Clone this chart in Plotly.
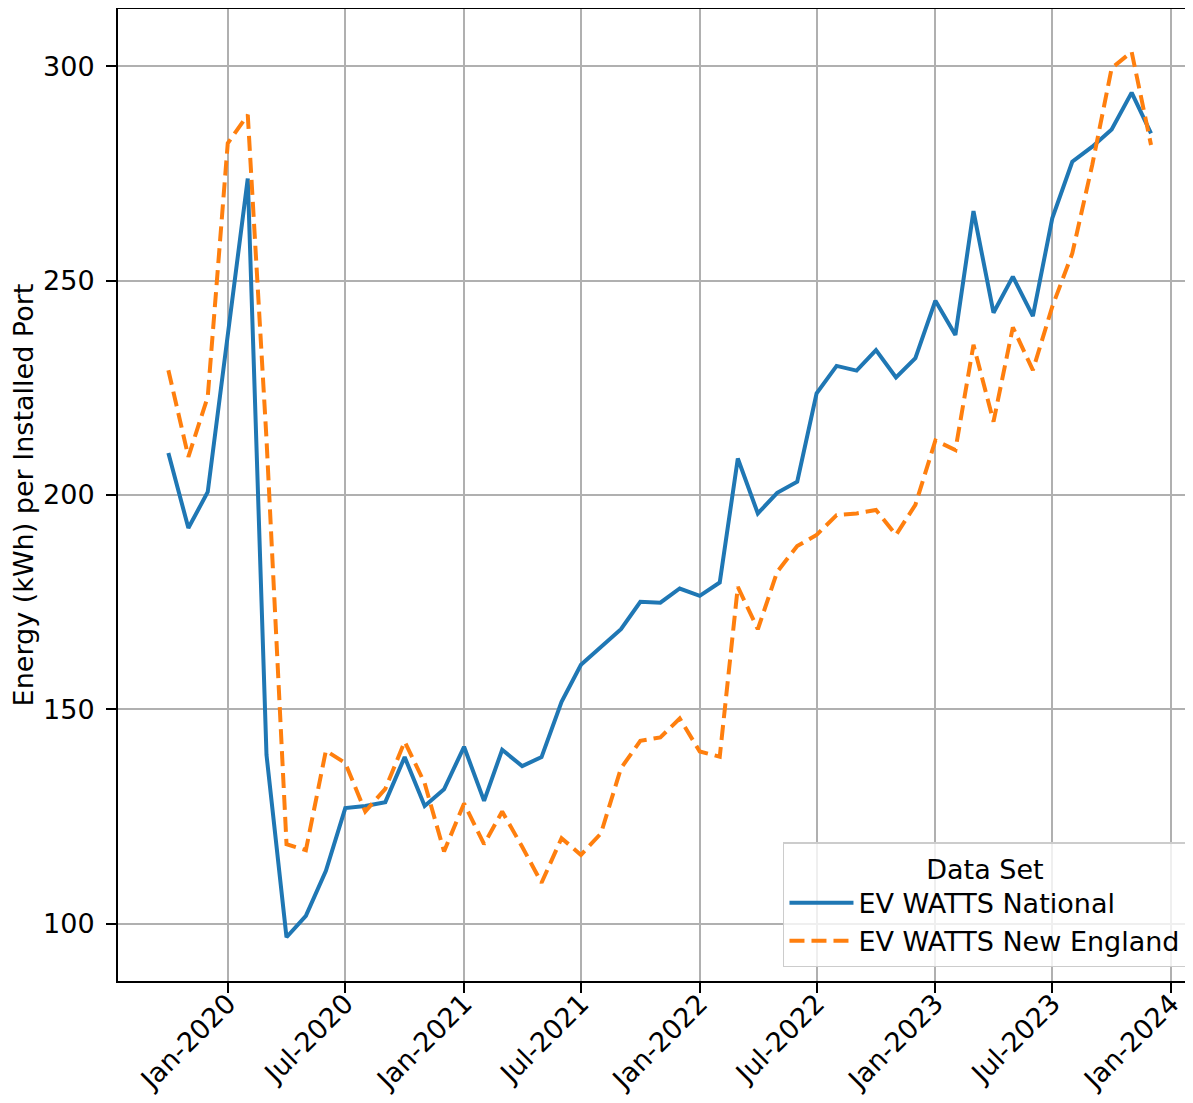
import plotly.graph_objects as go

months = [
    "2019-10-01", "2019-11-01", "2019-12-01",
    "2020-01-01", "2020-02-01", "2020-03-01", "2020-04-01", "2020-05-01", "2020-06-01",
    "2020-07-01", "2020-08-01", "2020-09-01", "2020-10-01", "2020-11-01", "2020-12-01",
    "2021-01-01", "2021-02-01", "2021-03-01", "2021-04-01", "2021-05-01", "2021-06-01",
    "2021-07-01", "2021-08-01", "2021-09-01", "2021-10-01", "2021-11-01", "2021-12-01",
    "2022-01-01", "2022-02-01", "2022-03-01", "2022-04-01", "2022-05-01", "2022-06-01",
    "2022-07-01", "2022-08-01", "2022-09-01", "2022-10-01", "2022-11-01", "2022-12-01",
    "2023-01-01", "2023-02-01", "2023-03-01", "2023-04-01", "2023-05-01", "2023-06-01",
    "2023-07-01", "2023-08-01", "2023-09-01", "2023-10-01", "2023-11-01", "2023-12-01",
]

national = [
    209.8, 192.3, 200.7,
    237.8, 273.8, 139.4, 96.9, 101.9, 112.4,
    127.0, 127.5, 128.4, 138.9, 127.5, 131.4,
    141.3, 128.7, 140.6, 136.8, 138.9, 151.8,
    160.4, 164.5, 168.7, 175.1, 174.9, 178.2,
    176.5, 179.6, 208.5, 195.7, 200.5, 203.1,
    223.7, 230.1, 229.0, 233.8, 227.4, 231.9,
    245.3, 237.3, 266.2, 242.5, 250.9, 241.7,
    264.5, 277.7, 281.2, 285.2, 293.8, 284.3,
]

new_england = [
    229.1, 208.9, 222.9,
    282.0, 288.6, 213.0, 118.6, 117.2, 140.4,
    137.5, 126.2, 131.5, 142.5, 132.8, 116.9,
    128.1, 118.6, 126.2, 118.0, 109.6, 120.0,
    116.1, 121.1, 136.3, 142.7, 143.5, 147.9,
    140.2, 139.0, 178.6, 168.7, 182.1, 188.1,
    190.7, 195.3, 195.7, 196.5, 190.7, 197.7,
    212.7, 210.5, 235.0, 217.1, 239.1, 229.1,
    243.9, 256.3, 277.0, 299.5, 303.3, 281.6,
]

series_names = ["EV WATTS National", "EV WATTS New England"]
y_ticks = [100, 150, 200, 250, 300]

FONT = "DejaVu Sans"
FS = 27

fig = go.Figure()
fig.add_trace(go.Scatter(
    x=months, y=national, mode="lines", name=series_names[0],
    line=dict(color="#1f77b4", width=4), legendgroup="a",
))
fig.add_trace(go.Scatter(
    x=months, y=new_england, mode="lines", name=series_names[1],
    line=dict(color="#ff7f0e", width=4, dash="15px,7px"), legendgroup="b",
))

fig.update_layout(
    width=1185, height=1095,
    margin=dict(l=110, r=0, t=1, b=122),
    paper_bgcolor="white", plot_bgcolor="white",
    font=dict(family=FONT, size=FS, color="black"),
    showlegend=True,
    legend=dict(
        title=dict(text="Data Set", side="top center", font=dict(size=FS)),
        x=0.9944, y=0.0144, xanchor="right", yanchor="bottom",
        bgcolor="rgba(255,255,255,0.8)", bordercolor="#cccccc", borderwidth=1.5,
        font=dict(size=FS), tracegroupgap=0, traceorder="grouped",
        itemwidth=64,
    ),
    xaxis=dict(
        type="date", automargin=False,
        range=["2019-07-15", "2024-02-04"],
        tick0="2020-01-01", dtick="M6", tickformat="%b-%Y",
        tickangle=-45,
        ticks="outside", ticklen=10, tickwidth=2, tickcolor="black",
        ticklabelstandoff=-16,
        showgrid=True, gridcolor="#b0b0b0", gridwidth=2,
        showline=True, linecolor="black", linewidth=2, mirror=True,
        zeroline=False,
        tickfont=dict(size=FS),
    ),
    yaxis=dict(
        automargin=False,
        range=[86.7, 313.3],
        tickvals=y_ticks,
        ticks="outside", ticklen=10, tickwidth=2, tickcolor="black",
        ticklabelstandoff=6,
        showgrid=True, gridcolor="#b0b0b0", gridwidth=2,
        showline=True, linecolor="black", linewidth=2, mirror=False,
        zeroline=False,
        tickfont=dict(size=FS),
        title=dict(text="Energy (kWh) per Installed Port", font=dict(size=FS), standoff=9),
    ),
)

fig.write_html("out.html")
